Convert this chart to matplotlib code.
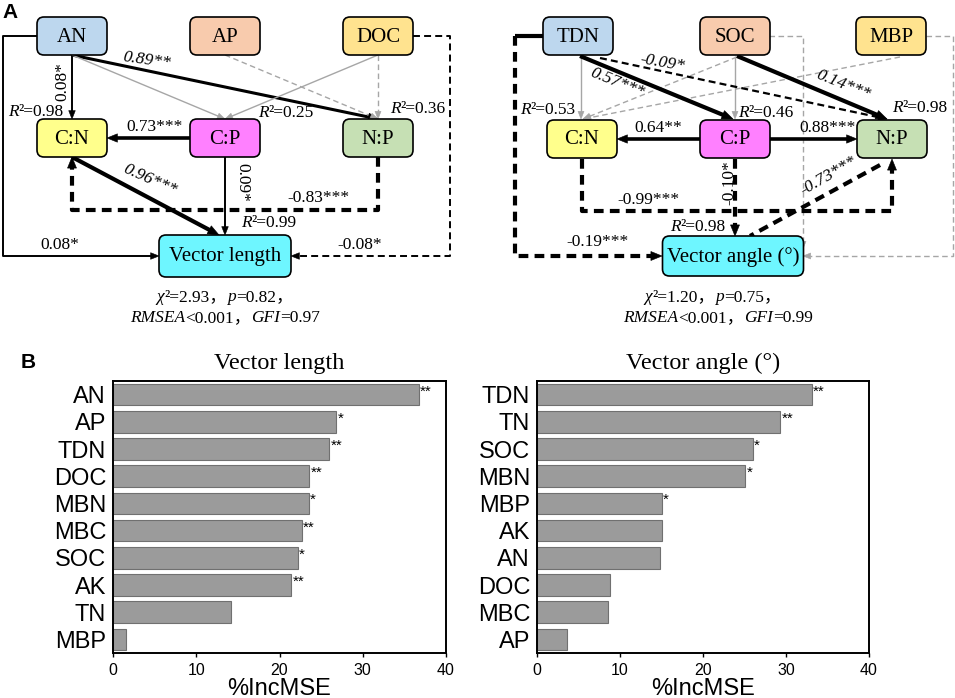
import numpy as np
import matplotlib
matplotlib.use("Agg")
import matplotlib.pyplot as plt
from matplotlib.patches import FancyBboxPatch, Polygon

plt.rcParams["lines.scale_dashes"] = False

SERIF = ["Liberation Serif", "Noto Sans CJK SC"]
SANS = "Liberation Sans"

# ---- panel B data (random forest importance) ----
len_vars = ["AN", "AP", "TDN", "DOC", "MBN", "MBC", "SOC", "AK", "TN", "MBP"]
len_vals = [36.7, 26.8, 26.0, 23.6, 23.5, 22.7, 22.2, 21.4, 14.2, 1.6]
len_sig = ["**", "*", "**", "**", "*", "**", "*", "**", "", ""]

ang_vars = ["TDN", "TN", "SOC", "MBN", "MBP", "AK", "AN", "DOC", "MBC", "AP"]
ang_vals = [33.1, 29.3, 26.0, 25.1, 15.0, 15.0, 14.8, 8.8, 8.6, 3.6]
ang_sig = ["**", "**", "*", "*", "*", "", "", "", "", ""]

# ---- panel A path coefficients ----
len_coefs = ["0.08*", "0.89**", "0.73***", "0.96***", "0.09*", "-0.83***", "0.08*", "-0.08*"]
len_r2 = ["0.98", "0.25", "0.36", "0.99"]
len_fit = ["2.93", "0.82", "<0.001", "0.97"]

ang_coefs = ["0.57***", "-0.09*", "0.14***", "0.64**", "0.88***", "-0.10*", "-0.73***", "-0.99***", "-0.19***"]
ang_r2 = ["0.53", "0.46", "0.98", "0.98"]
ang_fit = ["1.20", "0.75", "<0.001", "0.99"]

BLUE, PEACH, GOLD = "#BDD7EE", "#F8CBAD", "#FFE38F"
YEL, MAG, GRN, CYAN = "#FFFF8C", "#FF80FF", "#C6E0B4", "#6EF6FF"
GREY = "#A6A6A6"

fig = plt.figure(figsize=(9.55, 6.98), dpi=100)
ax = fig.add_axes([0, 0, 1, 1])
ax.set_xlim(0, 955)
ax.set_ylim(698, 0)
ax.axis("off")


def box(cx, cy, text, color, w=70, h=38, size=15):
    ax.add_patch(FancyBboxPatch((cx - w / 2, cy - h / 2), w, h,
                                boxstyle="round,pad=0,rounding_size=7",
                                fc=color, ec="black", lw=1.2, zorder=3))
    ax.text(cx, cy + 1, text, ha="center", va="center", fontsize=size,
            family=SERIF, zorder=4)


def path(pts, lw, color="black", dash=None, head=True):
    pts = np.array(pts, float)
    line = pts.copy()
    if head:
        p0, p1 = pts[-2], pts[-1]
        u = (p1 - p0) / np.hypot(*(p1 - p0))
        n = np.array([-u[1], u[0]])
        L, W = 6 + 1.7 * lw, 4.5 + 1.5 * lw
        base = p1 - u * L
        line[-1] = base + u * 1.0
        ax.add_patch(Polygon([p1, base + n * W / 2, base - n * W / 2], closed=True,
                             fc=color, ec=color, lw=0.4, zorder=2))
    ls = "-" if dash is None else (0, dash)
    ax.plot(line[:, 0], line[:, 1], color=color, lw=lw, ls=ls,
            solid_capstyle="butt", dash_capstyle="butt", zorder=1)


def lab(x, y, s, rot=0, size=12.5, italic=False):
    ax.text(x, y, s, ha="center", va="center", rotation=rot, fontsize=size,
            family=SERIF, style="italic" if italic else "normal", zorder=5,
            rotation_mode="anchor")


rich_items = []


def rich(x, y, parts, size=12.5):
    prev = None
    first = None
    for s, it in parts:
        kw = dict(fontsize=size, family=SERIF, style="italic" if it else "normal",
                  va="center", ha="left", zorder=5)
        if prev is None:
            t = ax.text(x, y, s, **kw)
            first = t
        else:
            t = ax.annotate(s, xy=(1, 0.5), xycoords=prev, **kw)
        prev = t
    rich_items.append((first, prev, x))


TH = 2.6   # thick line width
DASH_T = (7, 4.5)
DASH_M = (5, 3)
DASH_G = (4, 2.5)

# ================= left diagram (vector length) =================
box(72, 36, "AN", BLUE)
box(225, 36, "AP", PEACH)
box(378, 36, "DOC", GOLD)
box(72, 138, "C:N", YEL)
box(225, 138, "C:P", MAG)
box(378, 138, "N:P", GRN)
box(225, 256, "Vector length", CYAN, w=132, h=42)

path([(72, 55), (72, 119)], 1.4)
path([(72, 55), (378, 119)], 2.2)
path([(72, 55), (225, 119)], 1.0, GREY)
path([(225, 55), (378, 119)], 1.0, GREY, DASH_G)
path([(378, 55), (225, 119)], 1.0, GREY)
path([(378, 55), (378, 119)], 1.0, GREY, DASH_G)
path([(191, 138), (107, 138)], TH)
path([(72, 157), (219, 235)], 3.0)
path([(225, 157), (225, 235)], 1.4)
path([(378, 157), (378, 210), (72, 210), (72, 157)], 3.0, dash=DASH_T)
path([(37, 36), (3, 36), (3, 256), (159, 256)], 1.4)
path([(413, 36), (450, 36), (450, 256), (291, 256)], 1.4, dash=DASH_M)

lab(62, 82, len_coefs[0], rot=90)
lab(147, 60, len_coefs[1], rot=-8, italic=True)
lab(155, 127, len_coefs[2])
lab(150, 180, len_coefs[3], rot=-24, italic=True)
lab(242, 182, len_coefs[4], rot=-90)
lab(318, 198, len_coefs[5])
lab(60, 245, len_coefs[6])
lab(360, 245, len_coefs[7])

rich(8, 112, [("R", True), ("²=" + len_r2[0], False)])
rich(258, 113, [("R", True), ("²=" + len_r2[1], False)])
rich(390, 109, [("R", True), ("²=" + len_r2[2], False)])
rich(241, 223, [("R", True), ("²=" + len_r2[3], False)])

rich(225, 297, [("χ", True), ("²=" + len_fit[0] + "，", False), ("p", True),
                ("=" + len_fit[1] + "，", False)])
rich(225, 318, [("RMSEA", True), (len_fit[2] + "，", False), ("GFI", True),
                ("=" + len_fit[3], False)])

# ================= right diagram (vector angle) =================
box(578, 36, "TDN", BLUE)
box(735, 36, "SOC", PEACH)
box(891, 36, "MBP", GOLD)
box(582, 139, "C:N", YEL)
box(735, 139, "C:P", MAG)
box(892, 139, "N:P", GRN)
box(733, 256, "Vector angle (°)", CYAN, w=141, h=40)

path([(581, 56), (581, 119)], 1.0, GREY)
path([(737, 57), (583, 119)], 1.0, GREY, DASH_G)
path([(900, 57), (583, 119)], 1.0, GREY, DASH_G)
path([(735, 56), (735, 119)], 1.0, GREY)
path([(769, 36), (803, 36), (803, 249)], 1.0, GREY, DASH_G)
path([(926, 36), (953, 36), (953, 256), (803, 256)], 1.0, GREY, DASH_G)
path([(580, 56), (733, 119)], 3.0)
path([(600, 58), (887, 119)], 1.6, dash=DASH_M)
path([(737, 56), (887, 119)], 3.0)
path([(700, 139), (617, 139)], TH)
path([(769, 139), (857, 139)], TH)
path([(735, 159), (735, 236)], 3.0, dash=DASH_T)
path([(582, 159), (582, 211), (892, 211), (892, 159)], 3.0, dash=DASH_T)
path([(880, 165), (750, 236)], 3.0, dash=DASH_T, head=False)
path([(515, 36), (515, 256), (662, 256)], 3.0, dash=DASH_T)
path([(543, 36), (515, 36)], 3.0, head=False)

lab(617, 83, ang_coefs[0], rot=-22, italic=True)
lab(662, 63, ang_coefs[1], rot=-10, italic=True)
lab(843, 85, ang_coefs[2], rot=-22, italic=True)
lab(658, 128, ang_coefs[3])
lab(828, 128, ang_coefs[4])
lab(729, 183, ang_coefs[5], rot=90)
lab(828, 176, ang_coefs[6], rot=30, italic=True)
lab(648, 200, ang_coefs[7])
lab(597, 242, ang_coefs[8])

rich(520, 110, [("R", True), ("²=" + ang_r2[0], False)])
rich(738, 113, [("R", True), ("²=" + ang_r2[1], False)])
rich(892, 108, [("R", True), ("²=" + ang_r2[2], False)])
rich(670, 227, [("R", True), ("²=" + ang_r2[3], False)])

rich(713, 297, [("χ", True), ("²=" + ang_fit[0] + "，", False), ("p", True),
                ("=" + ang_fit[1] + "，", False)])
rich(718, 318, [("RMSEA", True), (ang_fit[2] + "，", False), ("GFI", True),
                ("=" + ang_fit[3], False)])

ax.text(10, 13, "A", fontsize=15, fontweight="bold", family=SANS, ha="center", va="center")
ax.text(28, 363, "B", fontsize=15, fontweight="bold", family=SANS, ha="center", va="center")

# center the fit statistic lines under their boxes
fig.canvas.draw()
r = fig.canvas.get_renderer()
for first, last, x in rich_items:
    if x in (225, 713, 718):
        b0 = first.get_window_extent(r)
        b1 = last.get_window_extent(r)
        first.set_x(x - (b1.x1 - b0.x0) / 2)

# ================= panel B bar charts =================
def bars(rect, names, vals, sig, title):
    a = fig.add_axes(rect)
    y = np.arange(len(names))
    a.barh(y, vals, height=0.8, color="#9B9B9B", edgecolor="#707070", lw=0.8)
    for i, (v, s) in enumerate(zip(vals, sig)):
        if s:
            a.text(v + 0.15, i - 0.12, s, fontsize=11, family=SANS, va="center", ha="left")
    a.set_xlim(0, 40)
    a.set_ylim(len(names) - 0.5, -0.5)
    a.set_yticks(y)
    a.set_yticklabels(names, fontsize=17, family=SANS)
    a.set_xticks([0, 10, 20, 30, 40])
    a.set_xticklabels(["0", "10", "20", "30", "40"], fontsize=11.5, family=SANS)
    a.tick_params(axis="y", length=0, pad=5)
    a.tick_params(axis="x", length=3, width=1, direction="out", pad=4)
    for sp in a.spines.values():
        sp.set_linewidth(1.4)
    a.set_xlabel("%IncMSE", fontsize=17, family=SANS, labelpad=0)
    a.set_title(title, fontsize=17.5, family=SERIF, pad=9)
    return a


bars([113 / 955, 1 - 653 / 698, 333 / 955, 272 / 698], len_vars, len_vals, len_sig, "Vector length")
bars([537 / 955, 1 - 653 / 698, 332 / 955, 272 / 698], ang_vars, ang_vals, ang_sig, "Vector angle (°)")

fig.savefig("out.png", dpi=100)
